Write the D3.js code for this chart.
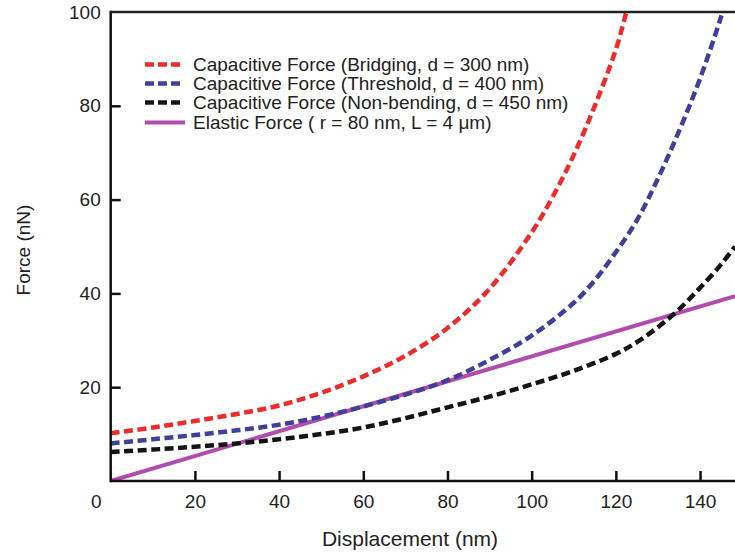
<!DOCTYPE html>
<html>
<head>
<meta charset="utf-8">
<script src="https://cdn.jsdelivr.net/npm/d3@7"></script>
<style>
  html, body { margin: 0; padding: 0; background: #ffffff; }
  svg { display: block; font-family: "Liberation Sans", Arial, sans-serif; }
</style>
</head>
<body>
<svg id="chart" width="735" height="557"></svg>
<script>
// ---- data ----
const seriesNames = [
  "Capacitive Force (Bridging, d = 300 nm)",
  "Capacitive Force (Threshold, d = 400 nm)",
  "Capacitive Force (Non-bending, d = 450 nm)",
  "Elastic Force ( r = 80 nm, L = 4 \u03bcm)"
];
const bridgingX = [0, 10, 20, 30, 40, 50, 60, 70, 80, 90, 100, 105, 110, 115, 120, 122.5, 124];
const bridgingY = [10.2, 11.4, 12.8, 14.3, 16.1, 18.8, 22.3, 26.7, 32.6, 41.0, 53.0, 60.6, 69.5, 80.0, 92.0, 100, 105];
const thresholdX = [0, 10, 20, 30, 40, 50, 60, 70, 80, 90, 100, 110, 115, 120, 125, 130, 135, 140, 145, 147];
const thresholdY = [8.0, 8.9, 9.8, 10.8, 12.0, 13.7, 15.9, 18.4, 21.5, 25.8, 31.0, 38.0, 42.8, 48.8, 55.6, 64.5, 74.6, 85.8, 99.0, 105];
const nonBendingX = [0, 10, 20, 30, 40, 50, 60, 70, 80, 90, 100, 110, 120, 125, 130, 135, 140, 145, 148.3];
const nonBendingY = [6.2, 6.7, 7.3, 8.0, 8.9, 10.0, 11.4, 13.4, 15.7, 18.0, 20.6, 23.5, 27.1, 29.6, 32.8, 36.6, 41.2, 46.2, 50.0];
const elasticX = [0, 148.3];
const elasticY = [0, 39.4];
const xTicks = [0, 20, 40, 60, 80, 100, 120, 140];
const yTicks = [20, 40, 60, 80, 100];
const xTitle = "Displacement (nm)";
const yTitle = "Force (nN)";

const colors = ["#ec2b2b", "#40409a", "#141414", "#b14caf"];

const series = [
  { name: seriesNames[0], xs: bridgingX, ys: bridgingY, color: colors[0], dashed: true },
  { name: seriesNames[1], xs: thresholdX, ys: thresholdY, color: colors[1], dashed: true },
  { name: seriesNames[2], xs: nonBendingX, ys: nonBendingY, color: colors[2], dashed: true },
  { name: seriesNames[3], xs: elasticX, ys: elasticY, color: colors[3], dashed: false }
];

// ---- layout ----
const svg = d3.select("#chart");
const mLeft = 110.7, mRight = 735, mTop = 12, mBottom = 481;
const x = d3.scaleLinear().domain([0, 148.3]).range([mLeft, mRight]);
const y = d3.scaleLinear().domain([0, 100]).range([mBottom, mTop]);

svg.append("defs").append("clipPath").attr("id", "plotclip")
  .append("rect").attr("x", mLeft).attr("y", mTop).attr("width", mRight - mLeft).attr("height", mBottom - mTop);

// curves
const line = d3.line().x(d => x(d[0])).y(d => y(d[1])).curve(d3.curveCatmullRom.alpha(0.5));
const g = svg.append("g").attr("clip-path", "url(#plotclip)");
const order = [3, 0, 1, 2];
order.forEach(i => {
  const s = series[i];
  const pts = s.xs.map((v, k) => [v, s.ys[k]]);
  g.append("path")
    .attr("d", line(pts))
    .attr("fill", "none")
    .attr("stroke", s.color)
    .attr("stroke-width", s.dashed ? 4.5 : 4)
    .attr("stroke-dasharray", s.dashed ? "9,4.5" : null);
});

// axes
const xAxis = d3.axisBottom(x).tickValues(xTicks).tickSize(-10).tickPadding(14)
  .tickFormat(d3.format("d"));
const gx = svg.append("g").attr("transform", `translate(0,${mBottom})`).call(xAxis);
gx.select(".domain").remove();
gx.selectAll(".tick line").attr("stroke", "#111").attr("stroke-width", 2.5);
gx.selectAll(".tick text").attr("font-size", 19).attr("fill", "#222")
  .attr("font-family", "Liberation Sans, Arial, sans-serif");
gx.selectAll(".tick").filter(d => d === 0).select("line").remove();
gx.selectAll(".tick").filter(d => d === 0).select("text").attr("dx", -15);

const yAxis = d3.axisLeft(y).tickValues(yTicks).tickSize(-10).tickPadding(10)
  .tickFormat(d3.format("d"));
const gy = svg.append("g").attr("transform", `translate(${mLeft},0)`).call(yAxis);
gy.select(".domain").remove();
gy.selectAll(".tick line").attr("stroke", "#111").attr("stroke-width", 2.5);
gy.selectAll(".tick").filter(d => d === 100).select("line").remove();
gy.selectAll(".tick text").attr("font-size", 19).attr("fill", "#222")
  .attr("font-family", "Liberation Sans, Arial, sans-serif");

// frame lines (left, bottom, top)
svg.append("line").attr("x1", mLeft).attr("x2", mLeft).attr("y1", mTop - 1.25).attr("y2", mBottom + 1.25)
  .attr("stroke", "#111").attr("stroke-width", 2.5);
svg.append("line").attr("x1", mLeft).attr("x2", mRight).attr("y1", mBottom).attr("y2", mBottom)
  .attr("stroke", "#111").attr("stroke-width", 2.5);
svg.append("line").attr("x1", mLeft).attr("x2", mRight).attr("y1", mTop).attr("y2", mTop)
  .attr("stroke", "#222").attr("stroke-width", 2.5);

// axis titles
svg.append("text").attr("x", 410).attr("y", 546).attr("text-anchor", "middle")
  .attr("font-size", 21).attr("fill", "#222").text(xTitle);
svg.append("text").attr("transform", "translate(30,250) rotate(-90)").attr("text-anchor", "middle")
  .attr("font-size", 19).attr("fill", "#222").text(yTitle);

// legend
const legY = [64.5, 83.5, 102.5, 122.5];
series.forEach((s, i) => {
  svg.append("line")
    .attr("x1", 145).attr("x2", s.dashed ? 180 : 185)
    .attr("y1", legY[i]).attr("y2", legY[i])
    .attr("stroke", s.color).attr("stroke-width", s.dashed ? 4.5 : 4)
    .attr("stroke-dasharray", s.dashed ? "9,4" : null);
  svg.append("text").attr("x", 193).attr("y", legY[i]).attr("dy", "0.35em")
    .attr("font-size", 19).attr("fill", "#222").text(s.name);
});
</script>
</body>
</html>
